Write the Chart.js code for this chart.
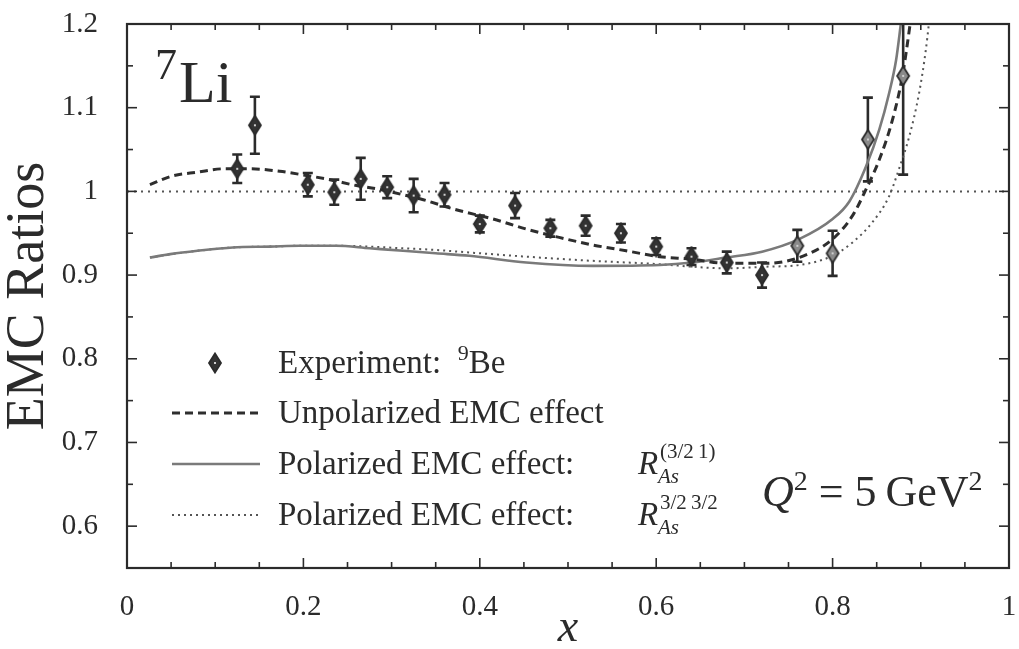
<!DOCTYPE html>
<html>
<head>
<meta charset="utf-8">
<title>EMC ratios 7Li</title>
<script src="https://cdn.jsdelivr.net/npm/chart.js@4.4.0/dist/chart.umd.min.js"></script>
<style>
  html, body { margin: 0; padding: 0; background: #fff; }
  #wrap { position: relative; width: 1019px; height: 649px; font-family: 'Liberation Serif', serif; color: #2b2b2b; }
  #chart { position: absolute; left: 0; top: 0; }
  .lbl { position: absolute; line-height: 1; white-space: nowrap; }
  .leg { font-size: 33px; left: 278px; }
  .up { position: relative; font-size: 22px; top: -13px; }
  .sm { position: absolute; line-height: 1; white-space: nowrap; font-size: 21px; }
</style>
</head>
<body>
<div id="wrap">
  <canvas id="chart" width="1019" height="649"></canvas>

  <div class="lbl" style="left:155px;top:43px;font-size:44px">7</div>
  <div class="lbl" style="left:179px;top:52px;font-size:60px">Li</div>

  <div class="lbl leg" style="top:346px">Experiment:&nbsp; <span class="up">9</span>Be</div>
  <div class="lbl leg" style="top:396px">Unpolarized EMC effect</div>
  <div class="lbl leg" style="top:447px">Polarized EMC effect:</div>
  <div class="lbl leg" style="top:498px">Polarized EMC effect:</div>

  <div class="lbl" style="left:638px;top:447px;font-size:33px;font-style:italic">R</div>
  <div class="sm" style="left:660px;top:441px">(3/2&thinsp;1)</div>
  <div class="sm" style="left:658px;top:466px;font-style:italic">As</div>

  <div class="lbl" style="left:638px;top:498px;font-size:33px;font-style:italic">R</div>
  <div class="sm" style="left:660px;top:492px">3/2&thinsp;3/2</div>
  <div class="sm" style="left:658px;top:517px;font-style:italic">As</div>

  <div class="lbl" style="left:762px;top:470px;font-size:44px"><i>Q</i><span class="up" style="font-size:28px;top:-16px">2</span>&nbsp;=&nbsp;5&thinsp;GeV<span class="up" style="font-size:28px;top:-16px">2</span></div>
</div>
<script>
// 9Be data points with their errors
const expX   = [0.125, 0.145, 0.205, 0.235, 0.265, 0.295, 0.325, 0.36, 0.40, 0.44, 0.48,
                0.52, 0.56, 0.60, 0.64, 0.68, 0.72, 0.76, 0.80, 0.84, 0.88];
const expY   = [1.027, 1.079, 1.008, 0.999, 1.015, 1.005, 0.995, 0.996, 0.961, 0.983, 0.956,
                0.959, 0.950, 0.934, 0.922, 0.915, 0.900, 0.935, 0.926, 1.062, 1.138];
const expErr = [0.017, 0.034, 0.014, 0.015, 0.025, 0.013, 0.020, 0.014, 0.010, 0.015, 0.010,
                0.012, 0.011, 0.010, 0.010, 0.013, 0.015, 0.019, 0.027, 0.050, 0.118];

// unpolarized EMC effect (dashed)
const unpolX = [0.026, 0.05, 0.08, 0.11, 0.14, 0.173, 0.2035, 0.23, 0.26, 0.283, 0.313, 0.336,
                0.37, 0.415, 0.4527, 0.49, 0.528, 0.566, 0.604, 0.641, 0.679, 0.709, 0.724,
                0.762, 0.80, 0.8226, 0.8377, 0.853, 0.868, 0.879, 0.8875, 0.895];
const unpolY = [1.008, 1.018, 1.023, 1.027, 1.027, 1.024, 1.019, 1.014, 1.007, 1.003, 0.996, 0.990,
                0.979, 0.967, 0.955, 0.945, 0.936, 0.929, 0.922, 0.919, 0.914, 0.914, 0.914,
                0.921, 0.943, 0.971, 1.002, 1.038, 1.086, 1.137, 1.197, 1.26];

// polarized R_As^(3/2 1) (solid)
const pol1X = [0.026, 0.049, 0.08, 0.12, 0.162, 0.196, 0.237, 0.275, 0.313, 0.35, 0.388, 0.4527,
               0.528, 0.604, 0.641, 0.679, 0.72, 0.762, 0.80, 0.819, 0.838, 0.853, 0.864, 0.872,
               0.877, 0.882];
const pol1Y = [0.921, 0.925, 0.929, 0.933, 0.934, 0.935, 0.935, 0.932, 0.929, 0.926, 0.923, 0.915,
               0.911, 0.912, 0.915, 0.921, 0.928, 0.943, 0.967, 0.988, 1.030, 1.074, 1.117, 1.157,
               1.197, 1.24];

// polarized R_As^(3/2 3/2) (dotted)
const pol2X = [0.026, 0.049, 0.08, 0.12, 0.162, 0.196, 0.237, 0.275, 0.313, 0.35, 0.388, 0.4527,
               0.528, 0.604, 0.641, 0.679, 0.724, 0.762, 0.80, 0.8226, 0.845, 0.864, 0.875, 0.887,
               0.898, 0.9057, 0.909, 0.913];
const pol2Y = [0.921, 0.925, 0.929, 0.933, 0.934, 0.935, 0.935, 0.934, 0.932, 0.930, 0.927, 0.922,
               0.917, 0.913, 0.910, 0.908, 0.910, 0.912, 0.923, 0.939, 0.963, 0.994, 1.026, 1.066,
               1.117, 1.169, 1.199, 1.24];

// ratio = 1 reference
const refX = [0, 1];
const refY = [1, 1];

const xTickLabels = ['0', '0.2', '0.4', '0.6', '0.8', '1'];
const yTickLabels = ['0.6', '0.7', '0.8', '0.9', '1', '1.1', '1.2'];

const ink = '#2b2b2b';
const FONT = "'Liberation Serif', serif";

const pts = (xs, ys) => xs.map((x, i) => ({x, y: ys[i]}));

function diamond(fill, stroke) {
  const c = document.createElement('canvas');
  c.width = 16; c.height = 22;
  const g = c.getContext('2d');
  g.beginPath();
  g.moveTo(8, 1.5); g.lineTo(14, 11); g.lineTo(8, 20.5); g.lineTo(2, 11);
  g.closePath();
  g.fillStyle = fill; g.fill();
  g.lineWidth = 1.8; g.strokeStyle = stroke; g.stroke();
  g.fillStyle = '#cfcfcf';
  g.fillRect(7, 10, 2, 2);
  return c;
}
const darkMark = diamond('#333', '#2b2b2b');
const greyMark = diamond('#8a8a8a', '#2b2b2b');

function labelFor(list, v) {
  const hit = list.find(s => Math.abs(parseFloat(s) - v) < 1e-6);
  return hit === undefined ? '' : hit;
}

// error bars under the markers
const errorBars = {
  id: 'errorBars',
  beforeDatasetsDraw(chart) {
    const {ctx, chartArea: a, scales: {x, y}} = chart;
    ctx.save();
    ctx.beginPath();
    ctx.rect(a.left, a.top, a.right - a.left, a.bottom - a.top);
    ctx.clip();
    ctx.strokeStyle = ink;
    ctx.lineWidth = 2.6;
    expX.forEach((xv, i) => {
      const px = x.getPixelForValue(xv);
      const top = y.getPixelForValue(expY[i] + expErr[i]);
      const bot = y.getPixelForValue(expY[i] - expErr[i]);
      ctx.beginPath();
      ctx.moveTo(px, top); ctx.lineTo(px, bot);
      ctx.moveTo(px - 5, top); ctx.lineTo(px + 5, top);
      ctx.moveTo(px - 5, bot); ctx.lineTo(px + 5, bot);
      ctx.stroke();
    });
    ctx.restore();
  }
};

// frame, inward ticks on all four sides, legend samples
const frame = {
  id: 'frame',
  afterDraw(chart) {
    const {ctx, chartArea: a, scales: {x, y}} = chart;
    const seg = (x1, y1, x2, y2) => { ctx.beginPath(); ctx.moveTo(x1, y1); ctx.lineTo(x2, y2); ctx.stroke(); };
    ctx.save();
    ctx.strokeStyle = ink;
    ctx.lineWidth = 2.2;
    ctx.strokeRect(a.left, a.top, a.right - a.left, a.bottom - a.top);
    ctx.lineWidth = 1.6;
    x.ticks.forEach(t => {
      const px = x.getPixelForValue(t.value);
      const len = labelFor(xTickLabels, t.value) ? 10 : 6;
      seg(px, a.bottom, px, a.bottom - len);
      seg(px, a.top, px, a.top + len);
    });
    y.ticks.forEach(t => {
      const py = y.getPixelForValue(t.value);
      const len = labelFor(yTickLabels, t.value) ? 10 : 6;
      seg(a.left, py, a.left + len, py);
      seg(a.right, py, a.right - len, py);
    });

    const ds = chart.data.datasets;
    ctx.drawImage(darkMark, 215 - 8, 363 - 11);
    [[ds[1], 413], [ds[2], 464], [ds[3], 515]].forEach(([d, yy]) => {
      ctx.strokeStyle = d.borderColor;
      ctx.lineWidth = d.borderWidth;
      ctx.setLineDash(d.borderDash || []);
      seg(172, yy, 260, yy);
    });
    ctx.restore();
  }
};

new Chart(document.getElementById('chart'), {
  type: 'scatter',
  data: {
    datasets: [
      {
        label: 'Experiment: 9Be',
        data: pts(expX, expY),
        pointStyle: ctx => (ctx.raw && ctx.raw.x > 0.74 ? greyMark : darkMark),
        pointRadius: 9,
        showLine: false
      },
      {
        label: 'Unpolarized EMC effect',
        data: pts(unpolX, unpolY),
        showLine: true,
        borderColor: '#2e2e2e',
        borderWidth: 3,
        borderDash: [8, 5],
        pointRadius: 0,
        cubicInterpolationMode: 'monotone'
      },
      {
        label: 'Polarized EMC effect: R(3/2 1)',
        data: pts(pol1X, pol1Y),
        showLine: true,
        borderColor: '#7a7a7a',
        borderWidth: 2.6,
        pointRadius: 0,
        cubicInterpolationMode: 'monotone'
      },
      {
        label: 'Polarized EMC effect: R(3/2 3/2)',
        data: pts(pol2X, pol2Y),
        showLine: true,
        borderColor: '#555',
        borderWidth: 2,
        borderDash: [2, 4],
        pointRadius: 0,
        cubicInterpolationMode: 'monotone'
      },
      {
        label: 'ratio 1',
        data: pts(refX, refY),
        showLine: true,
        borderColor: '#555',
        borderWidth: 2,
        borderDash: [2, 5],
        pointRadius: 0
      }
    ]
  },
  options: {
    responsive: false,
    devicePixelRatio: 1,
    animation: false,
    layout: { padding: { top: 24, right: 9, left: 0, bottom: 0 } },
    plugins: { legend: { display: false }, tooltip: { enabled: false } },
    scales: {
      x: {
        type: 'linear', min: 0, max: 1,
        afterFit: s => { s.height = 81; s.paddingLeft = 0; s.paddingRight = 0; },
        grid: { display: false, drawTicks: false },
        border: { display: false },
        ticks: {
          stepSize: 0.05, autoSkip: false, maxRotation: 0, padding: 22,
          color: ink, font: { family: FONT, size: 29 },
          callback: v => labelFor(xTickLabels, v)
        },
        title: {
          display: true, text: 'x', color: ink, padding: { bottom: -3 },
          font: { family: FONT, size: 46, style: 'italic', lineHeight: 1 }
        }
      },
      y: {
        type: 'linear', min: 0.55, max: 1.2,
        afterFit: s => { s.width = 127; s.paddingTop = 0; s.paddingBottom = 0; },
        grid: { display: false, drawTicks: false },
        border: { display: false },
        ticks: {
          stepSize: 0.05, autoSkip: false, padding: 29,
          color: ink, font: { family: FONT, size: 29 },
          callback: v => labelFor(yTickLabels, v)
        },
        title: {
          display: true, text: 'EMC Ratios', color: ink, padding: 0,
          font: { family: FONT, size: 54, lineHeight: 1.05 }
        }
      }
    }
  },
  plugins: [errorBars, frame]
});
</script>
</body>
</html>
